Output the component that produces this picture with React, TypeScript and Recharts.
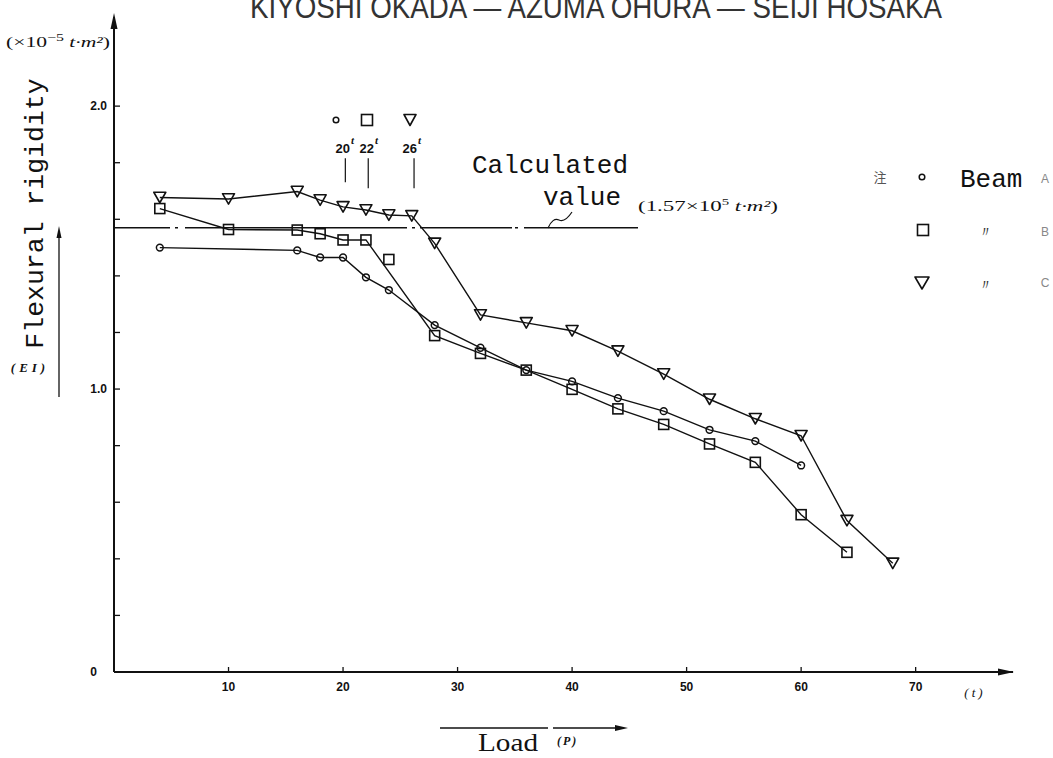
import React from 'react';
import { LineChart, Line, XAxis, YAxis, ReferenceLine } from 'recharts';

// ---- data ----
const loadsA = [4, 16, 18, 20, 22, 24, 28, 32, 36, 40, 44, 48, 52, 56, 60];
const rigidityA = [1.5, 1.49, 1.465, 1.465, 1.395, 1.35, 1.226, 1.146, 1.067, 1.027, 0.968, 0.922, 0.856, 0.816, 0.73];

const loadsB = [4, 10, 16, 18, 20, 22, 28, 32, 36, 40, 44, 48, 52, 56, 60, 64];
const rigidityB = [1.638, 1.564, 1.562, 1.549, 1.527, 1.527, 1.189, 1.126, 1.067, 0.999, 0.93, 0.875, 0.806, 0.741, 0.556, 0.423];
// point of beam B plotted off the connecting line
const loadsBOff = [24];
const rigidityBOff = [1.458];

const loadsC = [4, 10, 16, 18, 20, 22, 24, 26, 28, 32, 36, 40, 44, 48, 52, 56, 60, 64, 68];
const rigidityC = [1.677, 1.672, 1.698, 1.668, 1.644, 1.633, 1.615, 1.612, 1.515, 1.262, 1.234, 1.206, 1.134, 1.053, 0.964, 0.895, 0.835, 0.535, 0.384];

const calculatedValue = 1.57;
const calculatedEnd = 45.8;
const xTicks = [10, 20, 30, 40, 50, 60, 70];
const yTicks = [0, 0.2, 0.4, 0.6, 0.8, 1.0, 1.2, 1.4, 1.6, 1.8, 2.0];
const yLabelled = [0, 1, 2];
const yieldLoads = [20.2, 22.2, 26.2];
const yieldLabels = ['20', '22', '26'];

const toPoints = (xs: number[], ys: number[]) => xs.map((x, i) => ({ x, y: ys[i] }));
const dataA = toPoints(loadsA, rigidityA);
const dataB = toPoints(loadsB, rigidityB);
const dataBOff = toPoints(loadsBOff, rigidityBOff);
const dataC = toPoints(loadsC, rigidityC);

const INK = '#111';

const Circle = ({ cx, cy, r = 3.4 }: any) => (
  <circle cx={cx} cy={cy} r={r} fill="none" stroke={INK} strokeWidth={1.5} />
);
const Square = ({ cx, cy, s = 10 }: any) => (
  <rect x={cx - s / 2} y={cy - s / 2} width={s} height={s} fill="none" stroke={INK} strokeWidth={1.6} />
);
const Tri = ({ cx, cy, w = 12, h = 10.5 }: any) => (
  <path
    d={`M${cx - w / 2},${cy - h / 2} L${cx + w / 2},${cy - h / 2} L${cx},${cy + h / 2} Z`}
    fill="none"
    stroke={INK}
    strokeWidth={1.6}
    strokeLinejoin="round"
  />
);

const dotA = (p: any) => <Circle key={`a${p.index}`} cx={p.cx} cy={p.cy} />;
const dotB = (p: any) => <Square key={`b${p.index}`} cx={p.cx} cy={p.cy} />;
const dotC = (p: any) => <Tri key={`c${p.index}`} cx={p.cx} cy={p.cy} />;

const XTick = (p: any) => {
  const { x, y, payload } = p;
  return (
    <g>
      <line x1={x} y1={y} x2={x} y2={y - 5} stroke={INK} strokeWidth={1.3} />
      <text x={x} y={y + 19} textAnchor="middle" fontFamily="Liberation Sans, Arial" fontWeight="bold" fontSize={12} fill={INK}>
        {payload.value}
      </text>
    </g>
  );
};

const YTick = (p: any) => {
  const { x, y, payload } = p;
  const v = payload.value;
  const lab = yLabelled.find((t) => Math.abs(t - v) < 1e-6);
  return (
    <g>
      {v > 0 ? <line x1={x} y1={y} x2={x + 6} y2={y} stroke={INK} strokeWidth={1.3} /> : null}
      {lab !== undefined ? (
        <text
          x={lab === 0 ? x - 17 : x - 7}
          y={y + 4}
          textAnchor="end"
          fontFamily="Liberation Sans, Arial"
          fontWeight="bold"
          fontSize={12}
          fill={INK}
        >
          {lab === 0 ? '0' : lab.toFixed(1)}
        </text>
      ) : null}
    </g>
  );
};

const mono = 'Liberation Mono, DejaVu Sans Mono, monospace';
const serif = 'Liberation Serif, DejaVu Serif, serif';

export default function App() {
  return (
    <div style={{ position: 'absolute', left: 0, top: 0, width: 1053, height: 758, background: '#fff' }}>
      <LineChart width={1053} height={758} margin={{ top: 17, right: 40, bottom: 56, left: 74 }}>
        <XAxis
          type="number"
          dataKey="x"
          domain={[0, 78.5]}
          ticks={xTicks}
          height={30}
          tickSize={0}
          tickMargin={0}
          tick={<XTick />}
          axisLine={{ stroke: INK, strokeWidth: 2 }}
          tickLine={false}
          allowDataOverflow
        />
        <YAxis
          type="number"
          dataKey="y"
          domain={[0, 2.315]}
          ticks={yTicks}
          width={40}
          tickSize={0}
          tickMargin={0}
          tick={<YTick />}
          axisLine={{ stroke: INK, strokeWidth: 2 }}
          tickLine={false}
          allowDataOverflow
        />
        <ReferenceLine
          segment={[
            { x: 0, y: calculatedValue },
            { x: calculatedEnd, y: calculatedValue },
          ]}
          stroke={INK}
          strokeWidth={1.4}
          strokeDasharray="56 5 3 7 222 5 3 5 92 3 3 6 114"
          ifOverflow="visible"
        />
        {yieldLoads.map((lx, i) => (
          <ReferenceLine
            key={`yl${i}`}
            segment={[
              { x: lx, y: 1.816 },
              { x: lx, y: i === 0 ? 1.731 : 1.71 },
            ]}
            stroke={INK}
            strokeWidth={1.2}
            ifOverflow="visible"
          />
        ))}
        <Line data={dataA} dataKey="y" stroke={INK} strokeWidth={1.4} dot={dotA} isAnimationActive={false} />
        <Line data={dataB} dataKey="y" stroke={INK} strokeWidth={1.4} dot={dotB} isAnimationActive={false} />
        <Line data={dataBOff} dataKey="y" stroke="none" dot={dotB} isAnimationActive={false} />
        <Line data={dataC} dataKey="y" stroke={INK} strokeWidth={1.4} dot={dotC} isAnimationActive={false} />
      </LineChart>

      <svg
        width={1053}
        height={758}
        style={{ position: 'absolute', left: 0, top: 0, pointerEvents: 'none', overflow: 'hidden' }}
      >
        {/* running header, clipped at the top of the page as in the scan */}
        <text x={596} y={18} textAnchor="middle" fontFamily="Liberation Sans, Arial" fontSize={31} fill="#333" textLength={692} lengthAdjust="spacingAndGlyphs">
          KIYOSHI OKADA — AZUMA OHURA — SEIJI HOSAKA
        </text>

        {/* axis arrows */}
        <path d="M114,13 L110.5,29 L117.5,29 Z" fill={INK} />
        <path d="M1014,672 L998,668.5 L998,675.5 Z" fill={INK} />

        {/* unit on y */}
        <text x={6} y={47} fontFamily={serif} fontSize={15} fill={INK} textLength={104} lengthAdjust="spacingAndGlyphs">
          (×10
          <tspan dy={-6} fontSize={11}>−5</tspan>
          <tspan dy={6} fontStyle="italic"> t·m²</tspan>)
        </text>

        {/* y label */}
        <text
          x={43}
          y={213.5}
          transform="rotate(-90 43 213.5)"
          textAnchor="middle"
          fontFamily={mono}
          fontSize={26.5}
          fill={INK}
        >
          Flexural rigidity
        </text>
        <line x1={59} y1={397} x2={59} y2={236} stroke={INK} strokeWidth={1.3} />
        <path d="M59,226 L56.5,238 L61.5,238 Z" fill={INK} />
        <text x={30} y={372} textAnchor="middle" fontFamily={serif} fontStyle="italic" fontWeight="bold" fontSize={13} letterSpacing={4} fill={INK}>
          (EI)
        </text>

        {/* yield load markers */}
        <Circle cx={336} cy={120} r={2.8} />
        <Square cx={367} cy={120} s={11} />
        <Tri cx={410} cy={120} w={12} h={11} />
        {yieldLabels.map((t, i) => {
          const ends = [350, 374, 417];
          return (
            <g key={t}>
              <text x={ends[i]} y={153} textAnchor="end" fontFamily="Liberation Sans, Arial" fontWeight="bold" fontSize={13} fill={INK}>
                {t}
              </text>
              <text x={ends[i] + 1} y={144} fontFamily={serif} fontStyle="italic" fontWeight="bold" fontSize={11} fill={INK}>
                t
              </text>
            </g>
          );
        })}

        {/* calculated value annotation */}
        <text x={472} y={173} fontFamily={mono} fontSize={26} fill={INK}>
          Calculated
        </text>
        <text x={543} y={205} fontFamily={mono} fontSize={26} fill={INK}>
          value
        </text>
        <text x={638} y={211} fontFamily={serif} fontSize={14} fill={INK} textLength={140} lengthAdjust="spacingAndGlyphs">
          (1.57×10
          <tspan dy={-6} fontSize={9}>5</tspan>
          <tspan dy={6} fontStyle="italic">  t·m²</tspan>)
        </text>
        <path d="M548,228 C551,221 555,218 559,220 S568,218 572,212" fill="none" stroke={INK} strokeWidth={1.2} />

        {/* legend */}
        <text x={880} y={182} textAnchor="middle" fontFamily="Noto Sans CJK JP, sans-serif" fontSize={13} fill="#555">
          注
        </text>
        <Circle cx={922} cy={177} r={2.8} />
        <text x={960} y={187} fontFamily={mono} fontSize={26} fill={INK}>
          Beam
        </text>
        <text x={1045} y={183} textAnchor="middle" fontFamily="Liberation Sans, Arial" fontSize={12} fill="#888">
          A
        </text>
        <Square cx={923} cy={230} s={11} />
        <text x={985} y={237} textAnchor="middle" fontFamily={serif} fontSize={15} fill="#333">
          〃
        </text>
        <text x={1045} y={236} textAnchor="middle" fontFamily="Liberation Sans, Arial" fontSize={12} fill="#888">
          B
        </text>
        <Tri cx={922} cy={283} w={14} h={12} />
        <text x={985} y={290} textAnchor="middle" fontFamily={serif} fontSize={15} fill="#333">
          〃
        </text>
        <text x={1045} y={287} textAnchor="middle" fontFamily="Liberation Sans, Arial" fontSize={12} fill="#888">
          C
        </text>

        {/* x units and label */}
        <text x={975} y={697} textAnchor="middle" fontFamily={serif} fontStyle="italic" fontSize={13} letterSpacing={3} fill={INK}>
          (t)
        </text>
        <line x1={440} y1={728} x2={548} y2={728} stroke={INK} strokeWidth={1.3} />
        <line x1={553} y1={728} x2={620} y2={728} stroke={INK} strokeWidth={1.3} />
        <path d="M628,728 L615,725 L615,731 Z" fill={INK} />
        <text x={478} y={751} fontFamily={serif} fontSize={25} fill={INK} textLength={60} lengthAdjust="spacingAndGlyphs">
          Load
        </text>
        <text x={557} y={745} fontFamily={serif} fontStyle="italic" fontWeight="bold" fontSize={12} letterSpacing={2} fill={INK}>
          (P)
        </text>
      </svg>
    </div>
  );
}
